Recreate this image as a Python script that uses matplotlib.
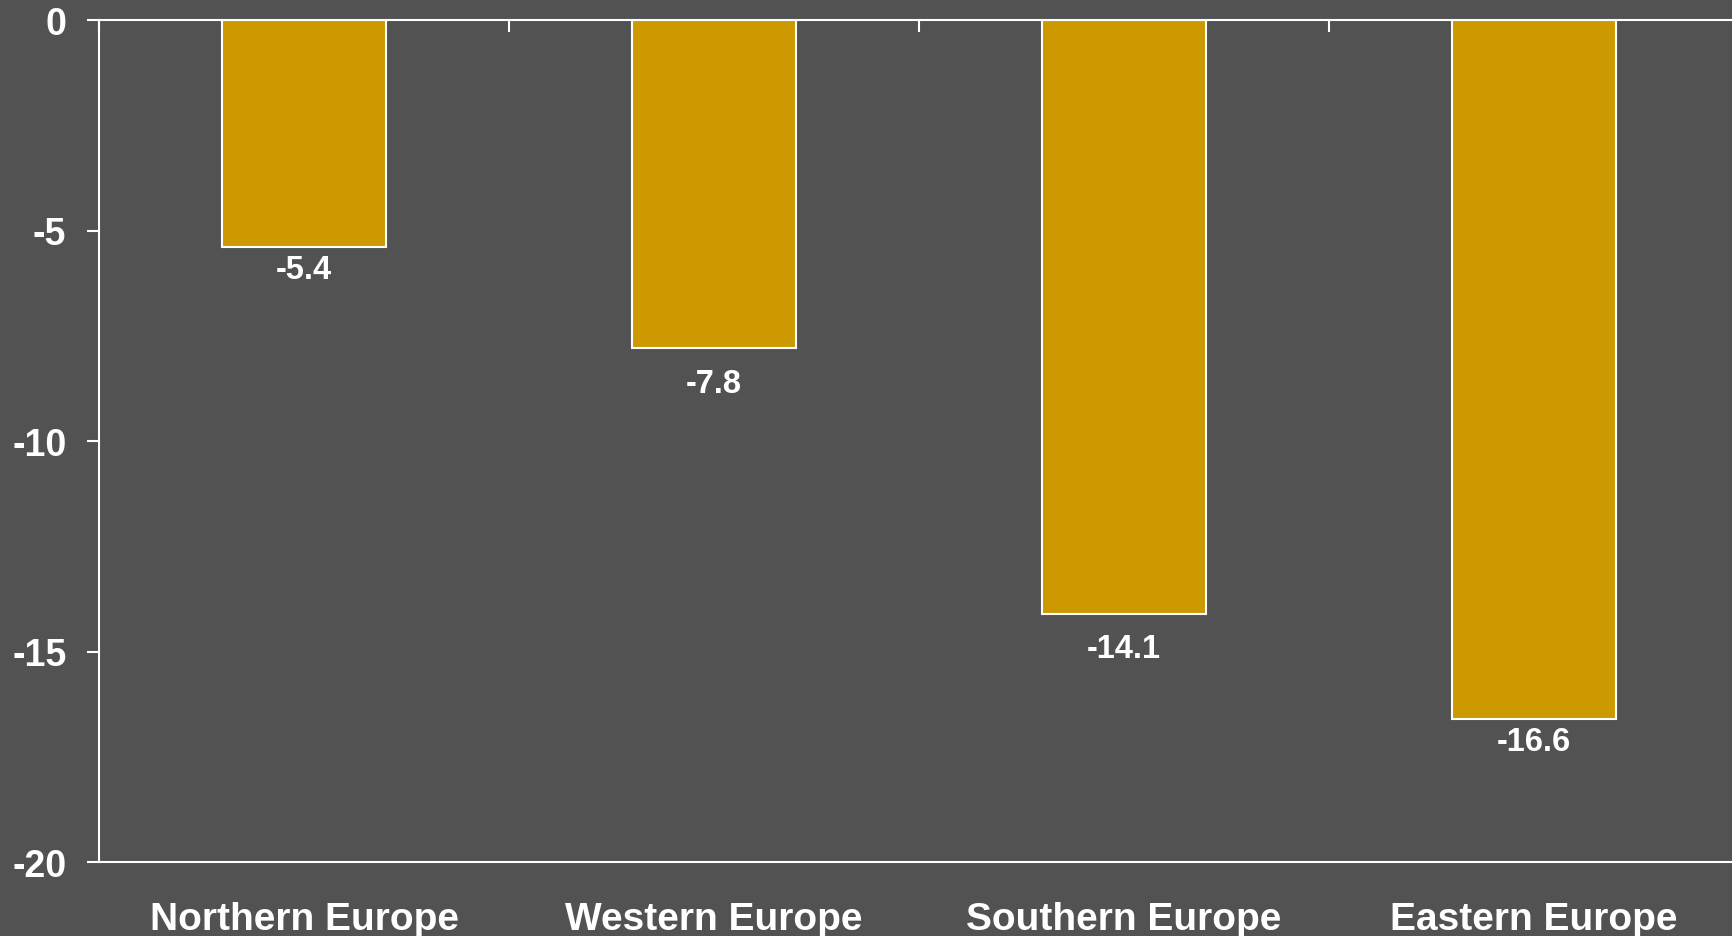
import numpy as np
import matplotlib
matplotlib.use('Agg')
from matplotlib import pyplot as plt

regions = ['Northern Europe', 'Western Europe', 'Southern Europe', 'Eastern Europe']
change = [-5.4, -7.8, -14.1, -16.6]
yticks = [0, -5, -10, -15, -20]

# gap (points) between bar end and its value label, as in the original
label_gap = [5, 14, 14, 5]

bg = '#525252'
gold = '#CC9900'

plt.rcParams['font.family'] = ['Liberation Sans', 'DejaVu Sans']
plt.rcParams['font.weight'] = 'bold'

fig = plt.figure(figsize=(17.32, 9.37), dpi=100, facecolor=bg)
ax = fig.add_axes([99 / 1732, 1 - 863 / 937, 1640 / 1732, (863 - 21) / 937])
ax.set_facecolor(bg)

x = np.arange(len(regions))
bars = ax.bar(x, change, width=0.4, color=gold, edgecolor='white', linewidth=1.5)

for rect, v, gap in zip(bars, change, label_gap):
    ax.annotate(f'{v:.1f}', (rect.get_x() + rect.get_width() / 2, v),
                xytext=(0, -gap), textcoords='offset points',
                ha='center', va='top', color='white', fontsize=23.5, fontweight='bold')

ax.set_xlim(-0.5, len(regions) - 0.5)
ax.set_ylim(-20, 0)
ax.set_yticks(yticks)
ax.set_yticklabels([str(t) for t in yticks])

ax.set_xticks(x)
ax.set_xticklabels(regions)
ax.set_xticks(np.arange(len(regions) + 1) - 0.5, minor=True)
ax.tick_params(axis='x', which='major', length=0, pad=28, labelsize=28, colors='white')
ax.tick_params(axis='x', which='minor', top=True, bottom=False, direction='in',
               length=8.5, width=1.5, color='white')
ax.tick_params(axis='y', which='major', length=8.5, width=1.5, pad=15,
               labelsize=27, colors='white')

for side in ['left', 'top', 'bottom']:
    ax.spines[side].set_color('white')
    ax.spines[side].set_linewidth(1.5)
ax.spines['right'].set_visible(False)

fig.savefig('out.png', dpi=100, facecolor=bg)
